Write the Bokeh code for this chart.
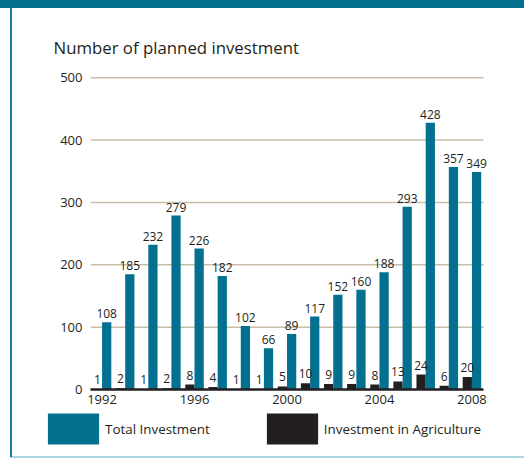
from bokeh.plotting import figure
from bokeh.layouts import column
from bokeh.models import (ColumnDataSource, LabelSet, Legend, LegendItem,
                          FixedTicker, Range1d)
from bokeh.transform import dodge
from bokeh.core.properties import value
from bokeh.embed import file_html
from bokeh.resources import INLINE

# ---- data ----
years = [1992, 1993, 1994, 1995, 1996, 1997, 1998, 1999, 2000,
         2001, 2002, 2003, 2004, 2005, 2006, 2007, 2008]
total_investment = [108, 185, 232, 279, 226, 182, 102, 66, 89,
                    117, 152, 160, 188, 293, 428, 357, 349]
agri_investment = [1, 2, 1, 2, 8, 4, 1, 1, 5,
                   10, 9, 9, 8, 13, 24, 6, 20]
x_tick_years = [1992, 1996, 2000, 2004, 2008]
y_ticks = [0, 100, 200, 300, 400, 500]
title_text = "Number of planned investment"
series_names = ["Total Investment", "Investment in Agriculture"]

TEAL = "#03708f"
DARK = "#231f20"
FONT = "Open Sans"
FRAME_DARK = "#04708f"
FRAME_LINE = "#1a80a2"
FRAME_LIGHT = "#a9d6e2"

src = ColumnDataSource(dict(year=years, total=total_investment, agri=agri_investment,
                            total_lbl=[str(v) for v in total_investment],
                            agri_lbl=[str(v) for v in agri_investment]))

# axis span of the chart, plus a little room on the right so the last label is not clipped
x_lo, x_hi = years[0] - 0.5, years[-1] + 0.5
chart_px = 393
extra_px = 8
x_end = x_hi + extra_px * (x_hi - x_lo) / chart_px

# ---------------- main chart ----------------
p = figure(width=524, height=411, output_backend="svg", toolbar_location=None,
           x_range=Range1d(x_lo, x_end), y_range=Range1d(0, 502),
           min_border_left=90, min_border_right=41 - extra_px, min_border_top=76,
           min_border_bottom=22)
p.styles = {
    "background-color": "white",
    "background-image": f"linear-gradient({FRAME_DARK},{FRAME_DARK}), linear-gradient({FRAME_LINE},{FRAME_LINE})",
    "background-size": "100% 8px, 2px 403px",
    "background-position": "0px 0px, 10px 8px",
    "background-repeat": "no-repeat",
}
p.outline_line_color = None
p.background_fill_color = "white"
p.border_fill_alpha = 0

# horizontal rules at the y ticks, spanning the year axis only
p.segment(x0=x_lo, x1=x_hi, y0=y_ticks[1:], y1=y_ticks[1:],
          line_color="#c9bea8", line_width=1.5)

r_agri = p.vbar(x=dodge("year", -0.2, range=p.x_range), top="agri", width=0.4,
                bottom=0, source=src, fill_color=DARK, line_color=None)
r_total = p.vbar(x=dodge("year", 0.2, range=p.x_range), top="total", width=0.4,
                 bottom=0, source=src, fill_color=TEAL, line_color=None)

for col, off, yoff in (("total", 0.2, 4), ("agri", -0.2, 5)):
    p.add_layout(LabelSet(x=dodge("year", off, range=p.x_range), y=col, text=col + "_lbl",
                          source=src, text_align="center", text_baseline="alphabetic",
                          y_offset=yoff, text_font=value(FONT), text_font_size="12px",
                          text_color=DARK))

p.xaxis.ticker = FixedTicker(ticks=x_tick_years)
p.xaxis.bounds = (x_lo, x_hi)
p.xaxis.axis_line_color = DARK
p.xaxis.axis_line_width = 2.5
p.xaxis.major_tick_line_color = None
p.xaxis.minor_tick_line_color = None
p.xaxis.major_tick_out = 0
p.xaxis.minor_tick_out = 0
p.xaxis.major_label_standoff = 5
p.xaxis.major_label_text_font = FONT
p.xaxis.major_label_text_font_size = "13px"
p.xaxis.major_label_text_color = DARK

p.yaxis.ticker = FixedTicker(ticks=y_ticks)
p.yaxis.axis_line_color = None
p.yaxis.major_tick_line_color = None
p.yaxis.minor_tick_line_color = None
p.yaxis.major_tick_out = 0
p.yaxis.minor_tick_out = 0
p.yaxis.major_label_standoff = 8
p.yaxis.major_label_text_font = FONT
p.yaxis.major_label_text_font_size = "13px"
p.yaxis.major_label_text_color = DARK

p.xgrid.grid_line_color = None
p.ygrid.grid_line_color = None

p.title.text = title_text
p.title.align = "left"
p.title.offset = -37
p.title.standoff = 35
p.title.text_font = FONT
p.title.text_font_size = "16.8px"
p.title.text_font_style = "normal"
p.title.text_color = DARK

# ---------------- legend strip ----------------
q = figure(width=524, height=48, output_backend="svg", toolbar_location=None,
           x_range=Range1d(0, 1), y_range=Range1d(0, 1),
           min_border=0, x_axis_type=None, y_axis_type=None)
for fig in (p, q):
    if "frame_align" in fig.properties():
        fig.frame_align = False
q.styles = {
    "background-color": "white",
    "background-image": f"linear-gradient({FRAME_LINE},{FRAME_LINE}), linear-gradient({FRAME_LIGHT},{FRAME_LIGHT})",
    "background-size": "2px 46px, 514px 2px",
    "background-position": "10px 0px, 10px 45px",
    "background-repeat": "no-repeat",
}
q.outline_line_color = None
q.background_fill_alpha = 0
q.border_fill_alpha = 0
q.grid.visible = False
# legend keys share the chart's data source (their bars fall outside this strip's view)
k_total = q.vbar(x="year", top="total", width=0.4, source=src, fill_color=TEAL, line_color=None)
k_agri = q.vbar(x="year", top="agri", width=0.4, source=src, fill_color=DARK, line_color=None)

legend = Legend(items=[LegendItem(label=series_names[0], renderers=[k_total]),
                       LegendItem(label=series_names[1], renderers=[k_agri])],
                orientation="horizontal", location=(41, 11),
                glyph_width=64, glyph_height=39, label_standoff=0, spacing=50,
                padding=0, margin=0, border_line_color=None, background_fill_alpha=0,
                label_text_font=FONT, label_text_font_size="13.4px",
                label_text_color=DARK, label_height=39)
q.add_layout(legend, "center")

layout = column(p, q, spacing=0)
open("out.html", "w").write(file_html(layout, INLINE))
